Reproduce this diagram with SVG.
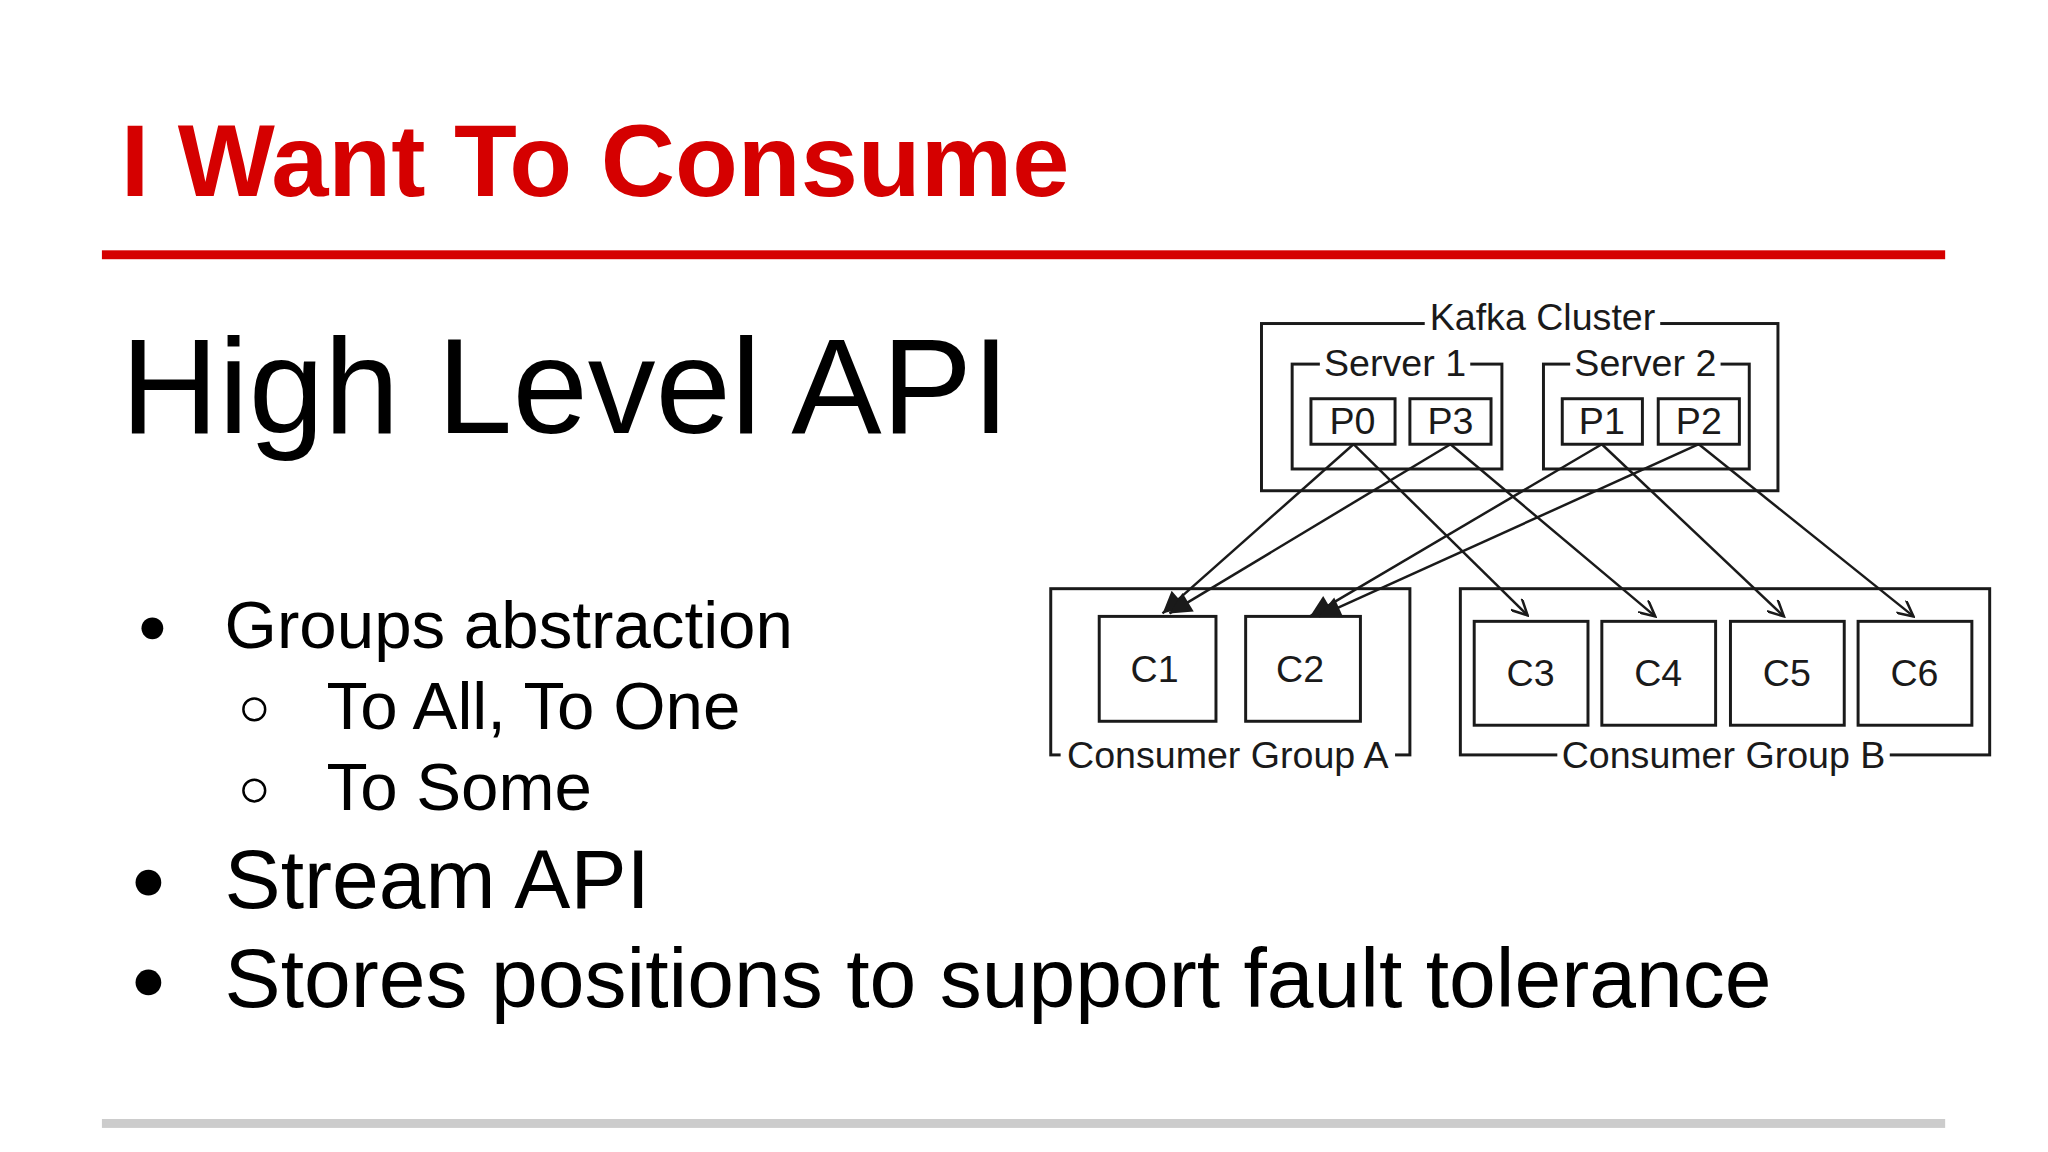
<svg xmlns="http://www.w3.org/2000/svg" width="2048" height="1152" viewBox="0 0 2048 1152">
<style>
.t{font-family:Arial,"Liberation Sans",sans-serif}
.box{fill:none;stroke:#1a1a1a;stroke-width:3}
.lbl{font-family:"Liberation Sans Narrow",Arial,"Liberation Sans",sans-serif;font-size:38px;fill:#1a1a1a;text-anchor:middle}
.bg{fill:#fff}
.c{stroke:#1a1a1a;stroke-width:2.5;fill:none;marker-end:url(#ah)}
</style>
<defs><marker id="ah" viewBox="0 0 10 10" refX="10" refY="5" markerWidth="20" markerHeight="16" markerUnits="userSpaceOnUse" orient="auto"><path d="M0,0L10,5L0,10" fill="none" stroke="#1a1a1a" stroke-width="1.6"/></marker>
<marker id="ah2" viewBox="0 0 10 10" refX="10" refY="5" markerWidth="30" markerHeight="22" markerUnits="userSpaceOnUse" orient="auto"><path d="M0,0L10,5L0,10z" fill="#1a1a1a"/></marker></defs>
<rect width="2048" height="1152" fill="#fff"/>
<g transform="scale(0.9894)">
<text class="t" x="122" y="198" font-size="104" font-weight="bold" fill="#d50000">I Want To Consume</text>
<rect x="103" y="253" width="1863" height="9" fill="#d50000"/>
<text class="t" x="122" y="438" font-size="137" fill="#000">High Level API</text>
<g class="t" fill="#000">
<circle cx="154" cy="635" r="11"/>
<text x="227" y="655" font-size="68">Groups abstraction</text>
<circle cx="257" cy="717" r="11" fill="none" stroke="#000" stroke-width="2.5"/>
<text x="330" y="737" font-size="68">To All, To One</text>
<circle cx="257" cy="799" r="11" fill="none" stroke="#000" stroke-width="2.5"/>
<text x="330" y="819" font-size="68">To Some</text>
<circle cx="150" cy="892" r="13"/>
<text x="227" y="918" font-size="85">Stream API</text>
<circle cx="150" cy="993" r="13"/>
<text x="227" y="1018" font-size="85">Stores positions to support fault tolerance</text>
</g>
<rect x="103" y="1131" width="1863" height="9" fill="#cccccc"/>
<g id="cluster"><rect class="box" x="1275" y="327" width="522" height="169"/><rect class="bg" x="1440" y="302" width="238" height="40"/><text class="lbl" x="1559" y="334">Kafka Cluster</text></g>
<g id="server1"><rect class="box" x="1306" y="368" width="212" height="106"/><rect class="bg" x="1334" y="348" width="152" height="36"/><text class="lbl" x="1410" y="380">Server 1</text></g>
<g id="server2"><rect class="box" x="1560" y="368" width="208" height="106"/><rect class="bg" x="1587" y="348" width="152" height="36"/><text class="lbl" x="1663" y="380">Server 2</text></g>
<g id="p0"><rect class="box" x="1325" y="403" width="85" height="46"/><text class="lbl" x="1367" y="439">P0</text></g>
<g id="p3"><rect class="box" x="1425" y="403" width="82" height="46"/><text class="lbl" x="1466" y="439">P3</text></g>
<g id="p1"><rect class="box" x="1579" y="403" width="81" height="46"/><text class="lbl" x="1619" y="439">P1</text></g>
<g id="p2"><rect class="box" x="1676" y="403" width="82" height="46"/><text class="lbl" x="1717" y="439">P2</text></g>
<g id="groupA"><rect class="box" x="1062" y="595" width="363" height="168"/><rect class="bg" x="1072" y="745" width="338" height="38"/><text class="lbl" x="1241" y="776">Consumer Group A</text></g>
<g id="groupB"><rect class="box" x="1476" y="595" width="535" height="168"/><rect class="bg" x="1574" y="745" width="336" height="38"/><text class="lbl" x="1742" y="776">Consumer Group B</text></g>
<g id="c1"><rect class="box" x="1111" y="623" width="118" height="106"/><text class="lbl" x="1167" y="689" font-size="40">C1</text></g>
<g id="c2"><rect class="box" x="1259" y="623" width="116" height="106"/><text class="lbl" x="1314" y="689" font-size="40">C2</text></g>
<g id="c3"><rect class="box" x="1490" y="628" width="115" height="105"/><text class="lbl" x="1547" y="693" font-size="40">C3</text></g>
<g id="c4"><rect class="box" x="1619" y="628" width="115" height="105"/><text class="lbl" x="1676" y="693" font-size="40">C4</text></g>
<g id="c5"><rect class="box" x="1749" y="628" width="115" height="105"/><text class="lbl" x="1806" y="693" font-size="40">C5</text></g>
<g id="c6"><rect class="box" x="1878" y="628" width="115" height="105"/><text class="lbl" x="1935" y="693" font-size="40">C6</text></g>
<g id="connectors">
<line class="c" style="marker-end:url(#ah2)" x1="1368" y1="449" x2="1175" y2="620"/>
<line class="c" x1="1368" y1="449" x2="1544" y2="622"/>
<line class="c" style="marker-end:url(#ah2)" x1="1466" y1="449" x2="1182" y2="620"/>
<line class="c" x1="1466" y1="449" x2="1673" y2="623"/>
<line class="c" style="marker-end:url(#ah2)" x1="1619" y1="449" x2="1324" y2="623"/>
<line class="c" x1="1619" y1="449" x2="1803" y2="623"/>
<line class="c" style="marker-end:url(#ah2)" x1="1717" y1="449" x2="1333" y2="623"/>
<line class="c" x1="1717" y1="449" x2="1934" y2="623"/>
</g>
</g>
</svg>
